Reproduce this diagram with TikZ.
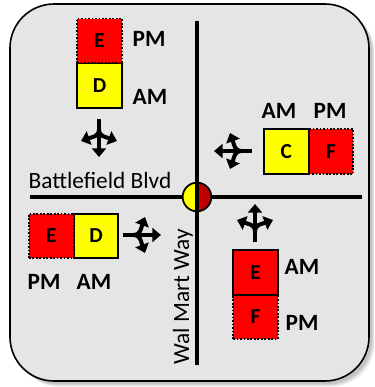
\documentclass[tikz,border=0pt]{standalone}
\usepackage{fontspec}
\setmainfont{Carlito}
\usetikzlibrary{arrows.meta,positioning}
\definecolor{sigred}{HTML}{FF0000}
\definecolor{sigyellow}{HTML}{FFFF00}
\definecolor{sigdark}{HTML}{C00000}
\definecolor{panel}{HTML}{E5E5E5}
\tikzset{
  lanebox/.style={minimum width=33.5pt,minimum height=33.5pt,inner sep=0pt,outer sep=0pt,font=\fontsize{16}{16}\selectfont\bfseries},
  solidbox/.style={lanebox,draw=black,line width=1.6pt},
  dotbox/.style={lanebox,draw=black,line width=1.3pt,dash pattern=on 1.3pt off 1.3pt},
  period/.style={font=\fontsize{17.5}{17.5}\selectfont\bfseries,inner sep=0pt},
  street/.style={font=\fontsize{17.5}{17.5}\selectfont,inner sep=0pt},
  road/.style={line width=3pt},
  turnhead/.style={-{Triangle[width=10.5pt,length=6.5pt]}},
  lanes/.pic={
    \draw[line width=3.6pt] (0,-19) -- (0,-6);
    \draw[line width=3.4pt,turnhead] (0,-7) -- (0,19);
    \draw[line width=3pt,turnhead] (0,-9) .. controls (0,-1) and (-7,-1) .. (-18,3);
    \draw[line width=3pt,turnhead] (0,-9) .. controls (0,-1) and (7,-1) .. (18,3);
  }
}

\begin{document}
\begin{tikzpicture}[x=0.75pt,y=-0.75pt]
\useasboundingbox (0,0) rectangle (375,387);
% panel with soft shadow
\foreach \s/\o in {6/0.05,5/0.06,4/0.07,3/0.08}
  \fill[black,opacity=\o,rounded corners=33pt] (10+\s,4+\s) rectangle (369+\s,381+\s);
\draw[line width=1.2pt,fill=panel,rounded corners=33pt] (10,4) rectangle (369,381);

% roads
\coordinate (nEnd) at (197,21);
\coordinate (sEnd) at (197,365);
\coordinate (wEnd) at (30,197);
\coordinate (eEnd) at (362,197);
\draw[road] (wEnd) -- (eEnd);
\node[circle,draw,line width=1.3pt,minimum size=21.5pt,inner sep=0pt,
  path picture={
    \fill[sigyellow] (path picture bounding box.south west) rectangle (path picture bounding box.north);
    \fill[sigdark] (path picture bounding box.south) rectangle (path picture bounding box.north east);
  }] (signal) at (197,197) {};
\draw[road] (nEnd) -- (sEnd);

\node[street] (blvd) at (100,180) {Battlefield Blvd};
\node[street,rotate=90] (way) at (183,297) {Wal Mart Way};

% southbound
\node[solidbox,fill=sigyellow] (sbD) at (99.5,85.5) {D};
\node[dotbox,fill=sigred,above=0pt of sbD] (sbE) {E};
\node[period] (sbPM) at (149,39) {PM};
\node[period] (sbAM) at (150,97) {AM};
\pic at (99,138) {lanes};

% westbound
\node[dotbox,fill=sigred] (wbF) at (331,151.5) {F};
\node[solidbox,fill=sigyellow,left=0pt of wbF] (wbC) {C};
\node[period] (wbAM) at (279,111) {AM};
\node[period] (wbPM) at (330,111) {PM};
\pic[rotate=-90] at (233,151) {lanes};

% eastbound
\node[solidbox,fill=sigyellow] (ebD) at (96,236) {D};
\node[dotbox,fill=sigred,left=0pt of ebD] (ebE) {E};
\node[period] (ebPM) at (44,282) {PM};
\node[period] (ebAM) at (94,282) {AM};
\pic[rotate=90] at (142,235) {lanes};

% northbound
\node[dotbox,fill=sigred] (nbF) at (255.5,317) {F};
\node[solidbox,fill=sigred,above=0pt of nbF] (nbE) {E};
\node[period] (nbAM) at (302,267) {AM};
\node[period] (nbPM) at (302,323) {PM};
\pic[rotate=180] at (255,223) {lanes};
\end{tikzpicture}
\end{document}
